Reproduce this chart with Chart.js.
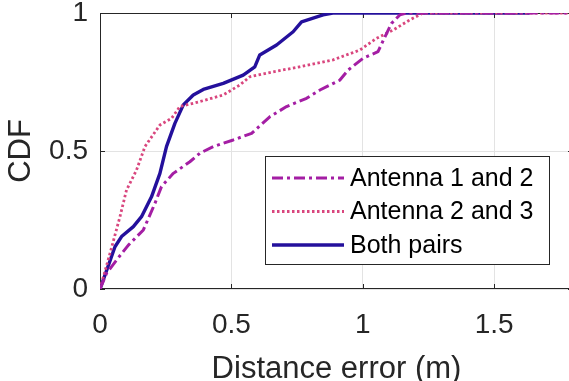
<!DOCTYPE html>
<html>
<head>
<meta charset="utf-8">
<script src="https://cdn.jsdelivr.net/npm/chart.js@4"></script>
<style>
  html, body { margin: 0; padding: 0; background: #fff; overflow: hidden; }
  #wrap { width: 573px; height: 381px; }
</style>
</head>
<body>
<div id="wrap"><canvas id="cdfChart"></canvas></div>
<script>
// distance error (m) / CDF samples
const pair12X = [0, 0.025, 0.063, 0.108, 0.165, 0.209, 0.234, 0.279, 0.342, 0.380, 0.431, 0.507, 0.577, 0.646, 0.710, 0.786, 0.837, 0.913, 0.944, 1.001, 1.058, 1.084, 1.109, 1.141, 1.166, 1.8];
const pair12Y = [0, 0.057, 0.105, 0.159, 0.214, 0.310, 0.371, 0.419, 0.461, 0.492, 0.516, 0.540, 0.564, 0.624, 0.661, 0.691, 0.721, 0.757, 0.793, 0.836, 0.860, 0.913, 0.962, 0.993, 1, 1];

const pair23X = [0, 0.038, 0.076, 0.101, 0.139, 0.171, 0.184, 0.228, 0.272, 0.304, 0.380, 0.469, 0.532, 0.570, 0.659, 0.760, 0.887, 0.989, 1.052, 1.115, 1.179, 1.229, 1.8];
const pair23Y = [0, 0.129, 0.262, 0.359, 0.431, 0.516, 0.534, 0.594, 0.618, 0.661, 0.679, 0.703, 0.739, 0.769, 0.787, 0.805, 0.830, 0.866, 0.908, 0.938, 0.975, 1, 1];

const bothX = [0, 0.03, 0.057, 0.082, 0.127, 0.158, 0.196, 0.228, 0.253, 0.285, 0.317, 0.355, 0.393, 0.469, 0.545, 0.589, 0.608, 0.672, 0.735, 0.767, 0.849, 0.886, 1.635];
const bothY = [0, 0.08, 0.153, 0.19, 0.226, 0.262, 0.334, 0.419, 0.516, 0.600, 0.667, 0.703, 0.723, 0.745, 0.775, 0.805, 0.848, 0.884, 0.932, 0.968, 0.993, 1, 1];

const seriesLabels = ['Antenna 1 and 2', 'Antenna 2 and 3', 'Both pairs'];
const xTicks = [0, 0.5, 1, 1.5];
const yTicks = [0, 0.5, 1];

const FONT = "'Liberation Sans', Arial, Helvetica, sans-serif";
const axisColor = '#262626';

const toPoints = (xs, ys) => xs.map((x, i) => ({ x, y: ys[i] }));

// MATLAB-style box, inward ticks
const boxPlugin = {
    id: 'box',
    beforeDatasetsDraw(chart) {
        const { ctx, chartArea: a, scales } = chart;
        ctx.save();
        ctx.strokeStyle = axisColor;
        ctx.lineWidth = 1;
        ctx.strokeRect(a.left + 0.5, a.top + 0.5, a.right - a.left - 1, a.bottom - a.top - 1);
        ctx.beginPath();
        xTicks.forEach(v => {
            const px = Math.round(scales.x.getPixelForValue(v)) + 0.5;
            ctx.moveTo(px, a.bottom); ctx.lineTo(px, a.bottom - 5);
            ctx.moveTo(px, a.top); ctx.lineTo(px, a.top + 5);
        });
        yTicks.forEach(v => {
            const py = Math.round(scales.y.getPixelForValue(v)) + 0.5;
            ctx.moveTo(a.left, py); ctx.lineTo(a.left + 5, py);
            ctx.moveTo(a.right, py); ctx.lineTo(a.right - 5, py);
        });
        ctx.stroke();
        ctx.restore();
    }
};

// legend box in the lower right of the axes
const legendPlugin = {
    id: 'boxLegend',
    afterDatasetsDraw(chart) {
        const { ctx } = chart;
        const bx = 265, by = 156, bw = 284, bh = 108;
        ctx.save();
        ctx.fillStyle = '#fff';
        ctx.fillRect(bx, by, bw, bh);
        ctx.strokeStyle = axisColor;
        ctx.lineWidth = 1;
        ctx.strokeRect(bx + 0.5, by + 0.5, bw, bh);
        ctx.font = '25px ' + FONT;
        ctx.textBaseline = 'middle';
        chart.data.datasets.forEach((ds, i) => {
            const y = by + 22 + i * 33.5;
            ctx.strokeStyle = ds.borderColor;
            ctx.lineWidth = ds.borderWidth;
            ctx.setLineDash(ds.borderDash || []);
            ctx.beginPath();
            ctx.moveTo(bx + 7, y);
            ctx.lineTo(bx + 79, y);
            ctx.stroke();
            ctx.setLineDash([]);
            ctx.fillStyle = '#000';
            ctx.fillText(ds.label, bx + 85, y + 1);
        });
        ctx.restore();
    }
};

new Chart(document.getElementById('cdfChart'), {
    type: 'line',
    data: {
        datasets: [
            {
                label: seriesLabels[0],
                data: toPoints(pair12X, pair12Y),
                borderColor: '#A41EA4',
                borderWidth: 3,
                borderDash: [11, 4, 3, 4]
            },
            {
                label: seriesLabels[1],
                data: toPoints(pair23X, pair23Y),
                borderColor: '#D9467E',
                borderWidth: 2.8,
                borderDash: [2.5, 2.5]
            },
            {
                label: seriesLabels[2],
                data: toPoints(bothX, bothY),
                borderColor: '#24109C',
                borderWidth: 3.4
            }
        ]
    },
    options: {
        responsive: true,
        maintainAspectRatio: false,
        animation: false,
        layout: { padding: { top: 13, right: 0, left: 0, bottom: 0 } },
        elements: {
            point: { radius: 0 },
            line: { tension: 0, fill: false, borderCapStyle: 'butt', borderJoinStyle: 'round' }
        },
        plugins: {
            legend: { display: false },
            tooltip: { enabled: false }
        },
        scales: {
            x: {
                type: 'linear',
                min: 0,
                max: 1.8,
                afterBuildTicks: s => { s.ticks = xTicks.map(v => ({ value: v })); },
                afterFit: s => { s.height = 92; s.paddingLeft = 0; s.paddingRight = 0; },
                grid: { color: '#e3e3e3', drawTicks: false },
                border: { display: false },
                ticks: {
                    color: axisColor,
                    padding: 19,
                    maxRotation: 0,
                    font: { family: FONT, size: 28 },
                    callback: v => String(v)
                },
                title: {
                    display: true,
                    text: 'Distance error (m)',
                    color: axisColor,
                    padding: { top: 0, bottom: -7 },
                    font: { family: FONT, size: 31 }
                }
            },
            y: {
                type: 'linear',
                min: 0,
                max: 1,
                afterBuildTicks: s => { s.ticks = yTicks.map(v => ({ value: v })); },
                afterFit: s => { s.width = 100; s.paddingTop = 0; s.paddingBottom = 0; },
                grid: { color: '#e3e3e3', drawTicks: false },
                border: { display: false },
                ticks: {
                    color: axisColor,
                    padding: 12,
                    font: { family: FONT, size: 28 },
                    callback: v => String(v)
                },
                title: {
                    display: true,
                    text: 'CDF',
                    color: axisColor,
                    padding: { top: 3, bottom: 0 },
                    font: { family: FONT, size: 31 }
                }
            }
        }
    },
    plugins: [boxPlugin, legendPlugin]
});
</script>
</body>
</html>
